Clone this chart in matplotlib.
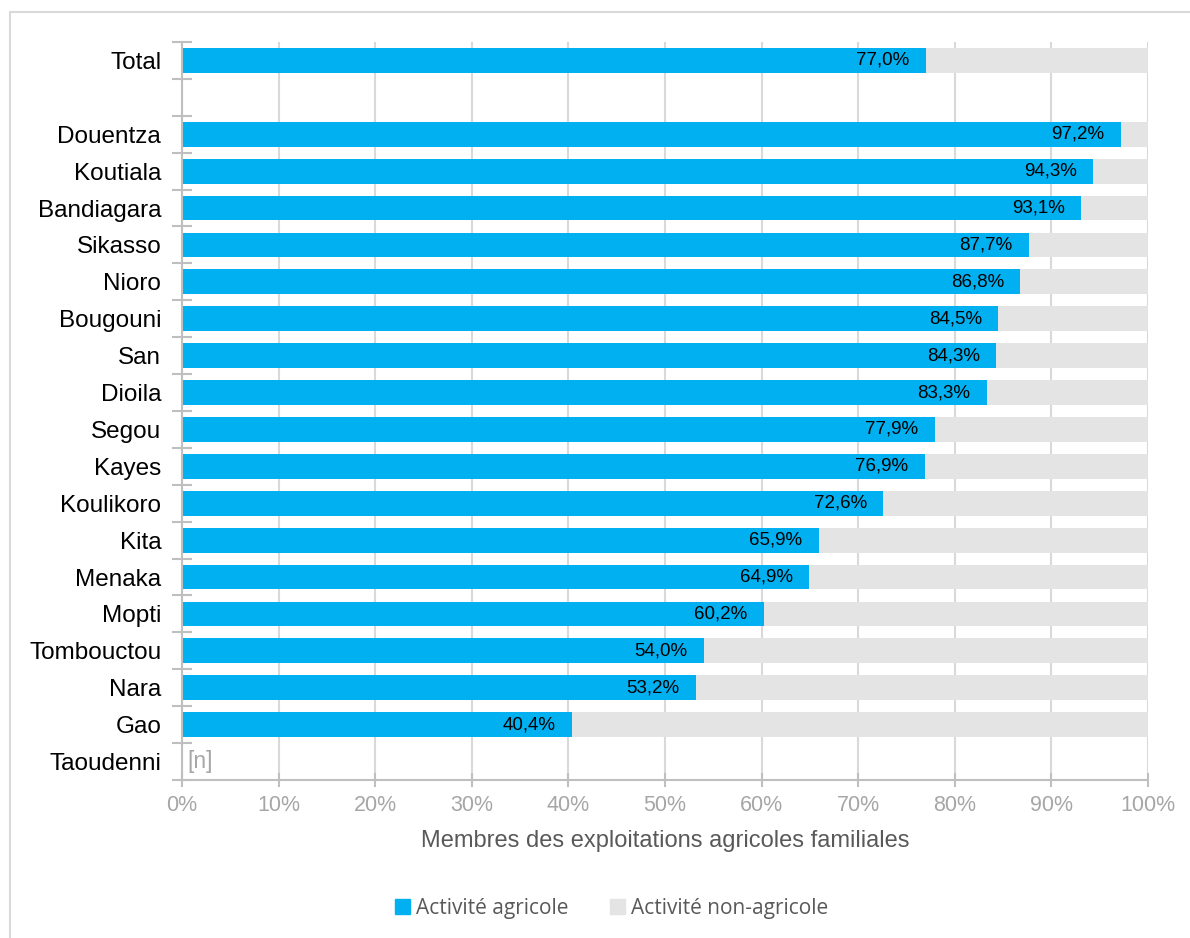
import numpy as np
import matplotlib.pyplot as plt
from matplotlib.patches import Rectangle
from matplotlib.ticker import FixedLocator, PercentFormatter

# categories, top to bottom ("" is the spacer row)
regions = ["Total", "", "Douentza", "Koutiala", "Bandiagara", "Sikasso", "Nioro",
           "Bougouni", "San", "Dioila", "Segou", "Kayes", "Koulikoro", "Kita",
           "Menaka", "Mopti", "Tombouctou", "Nara", "Gao", "Taoudenni"]
agri = [77.0, None, 97.2, 94.3, 93.1, 87.7, 86.8, 84.5, 84.3, 83.3, 77.9,
        76.9, 72.6, 65.9, 64.9, 60.2, 54.0, 53.2, 40.4, None]

blue = "#00B0F0"
light = "#E4E4E4"
axis_grey = "#BFBFBF"

plt.rcParams['font.family'] = ['Liberation Sans', 'DejaVu Sans']

fig = plt.figure(figsize=(11.9, 9.38), dpi=100)
# light frame around the chart
fig.patches.append(Rectangle((10 / 1190, -0.1), 1.2, 1 - 12 / 938 + 0.1,
                             transform=fig.transFigure, fill=False,
                             edgecolor="#D9D9D9", lw=1.5))

ax = fig.add_axes([182 / 1190, 1 - 780 / 938, (1148 - 182) / 1190, (780 - 42) / 938])

ypos = np.arange(len(regions))
for y, v in zip(ypos, agri):
    if v is None:
        continue
    ax.barh(y, v, height=0.67, color=blue, zorder=2)
    ax.barh(y, 100 - v, left=v, height=0.67, color=light, zorder=2)
    ax.text(v - 1.7, y, f"{v:.1f}%".replace(".", ","), ha="right", va="center",
            fontsize=13.5, color="black", zorder=3)

ax.text(0.6, ypos[-1], "[n]", ha="left", va="center", fontsize=16.5, color="#A6A6A6")

ax.set_xlim(0, 100)
ax.set_ylim(len(regions) - 0.5, -0.5)
ax.set_xticks(np.arange(0, 101, 10))
ax.xaxis.set_major_formatter(PercentFormatter(decimals=0))
ax.tick_params(axis="x", colors=axis_grey, labelcolor="#A6A6A6", labelsize=15.5,
               direction="inout", length=10, width=1.5, pad=6)

# y ticks at row boundaries, labels at row centers
ax.yaxis.set_major_locator(FixedLocator(np.arange(-0.5, len(regions), 1.0)))
ax.yaxis.set_minor_locator(FixedLocator(ypos))
ax.set_yticklabels([], minor=False)
ax.set_yticklabels(regions, minor=True)
ax.tick_params(axis="y", which="major", colors=axis_grey, direction="inout",
               length=15, width=1.5)
ax.tick_params(axis="y", which="minor", length=0, labelsize=17.5, labelcolor="black", pad=15)

ax.grid(axis="x", color="#D9D9D9", lw=1.5, zorder=0)
ax.set_axisbelow(True)
for s in ("top", "right"):
    ax.spines[s].set_visible(False)
for s in ("left", "bottom"):
    ax.spines[s].set_color(axis_grey)
    ax.spines[s].set_linewidth(1.5)

ax.set_xlabel("Membres des exploitations agricoles familiales", fontsize=17,
              color="#595959", labelpad=10)

handles = [Rectangle((0, 0), 1, 1, color=blue), Rectangle((0, 0), 1, 1, color=light)]
fig.legend(handles, ["Activité agricole", "Activité non-agricole"], loc="center",
           bbox_to_anchor=(612 / 1190, 1 - 908 / 938), ncol=2, frameon=False,
           handlelength=0.7, handleheight=0.7, handletextpad=0.3, columnspacing=2.0,
           prop={"family": ["Open Sans", "DejaVu Sans"], "size": 15},
           labelcolor="#595959")

fig.savefig("out.png", dpi=100)
